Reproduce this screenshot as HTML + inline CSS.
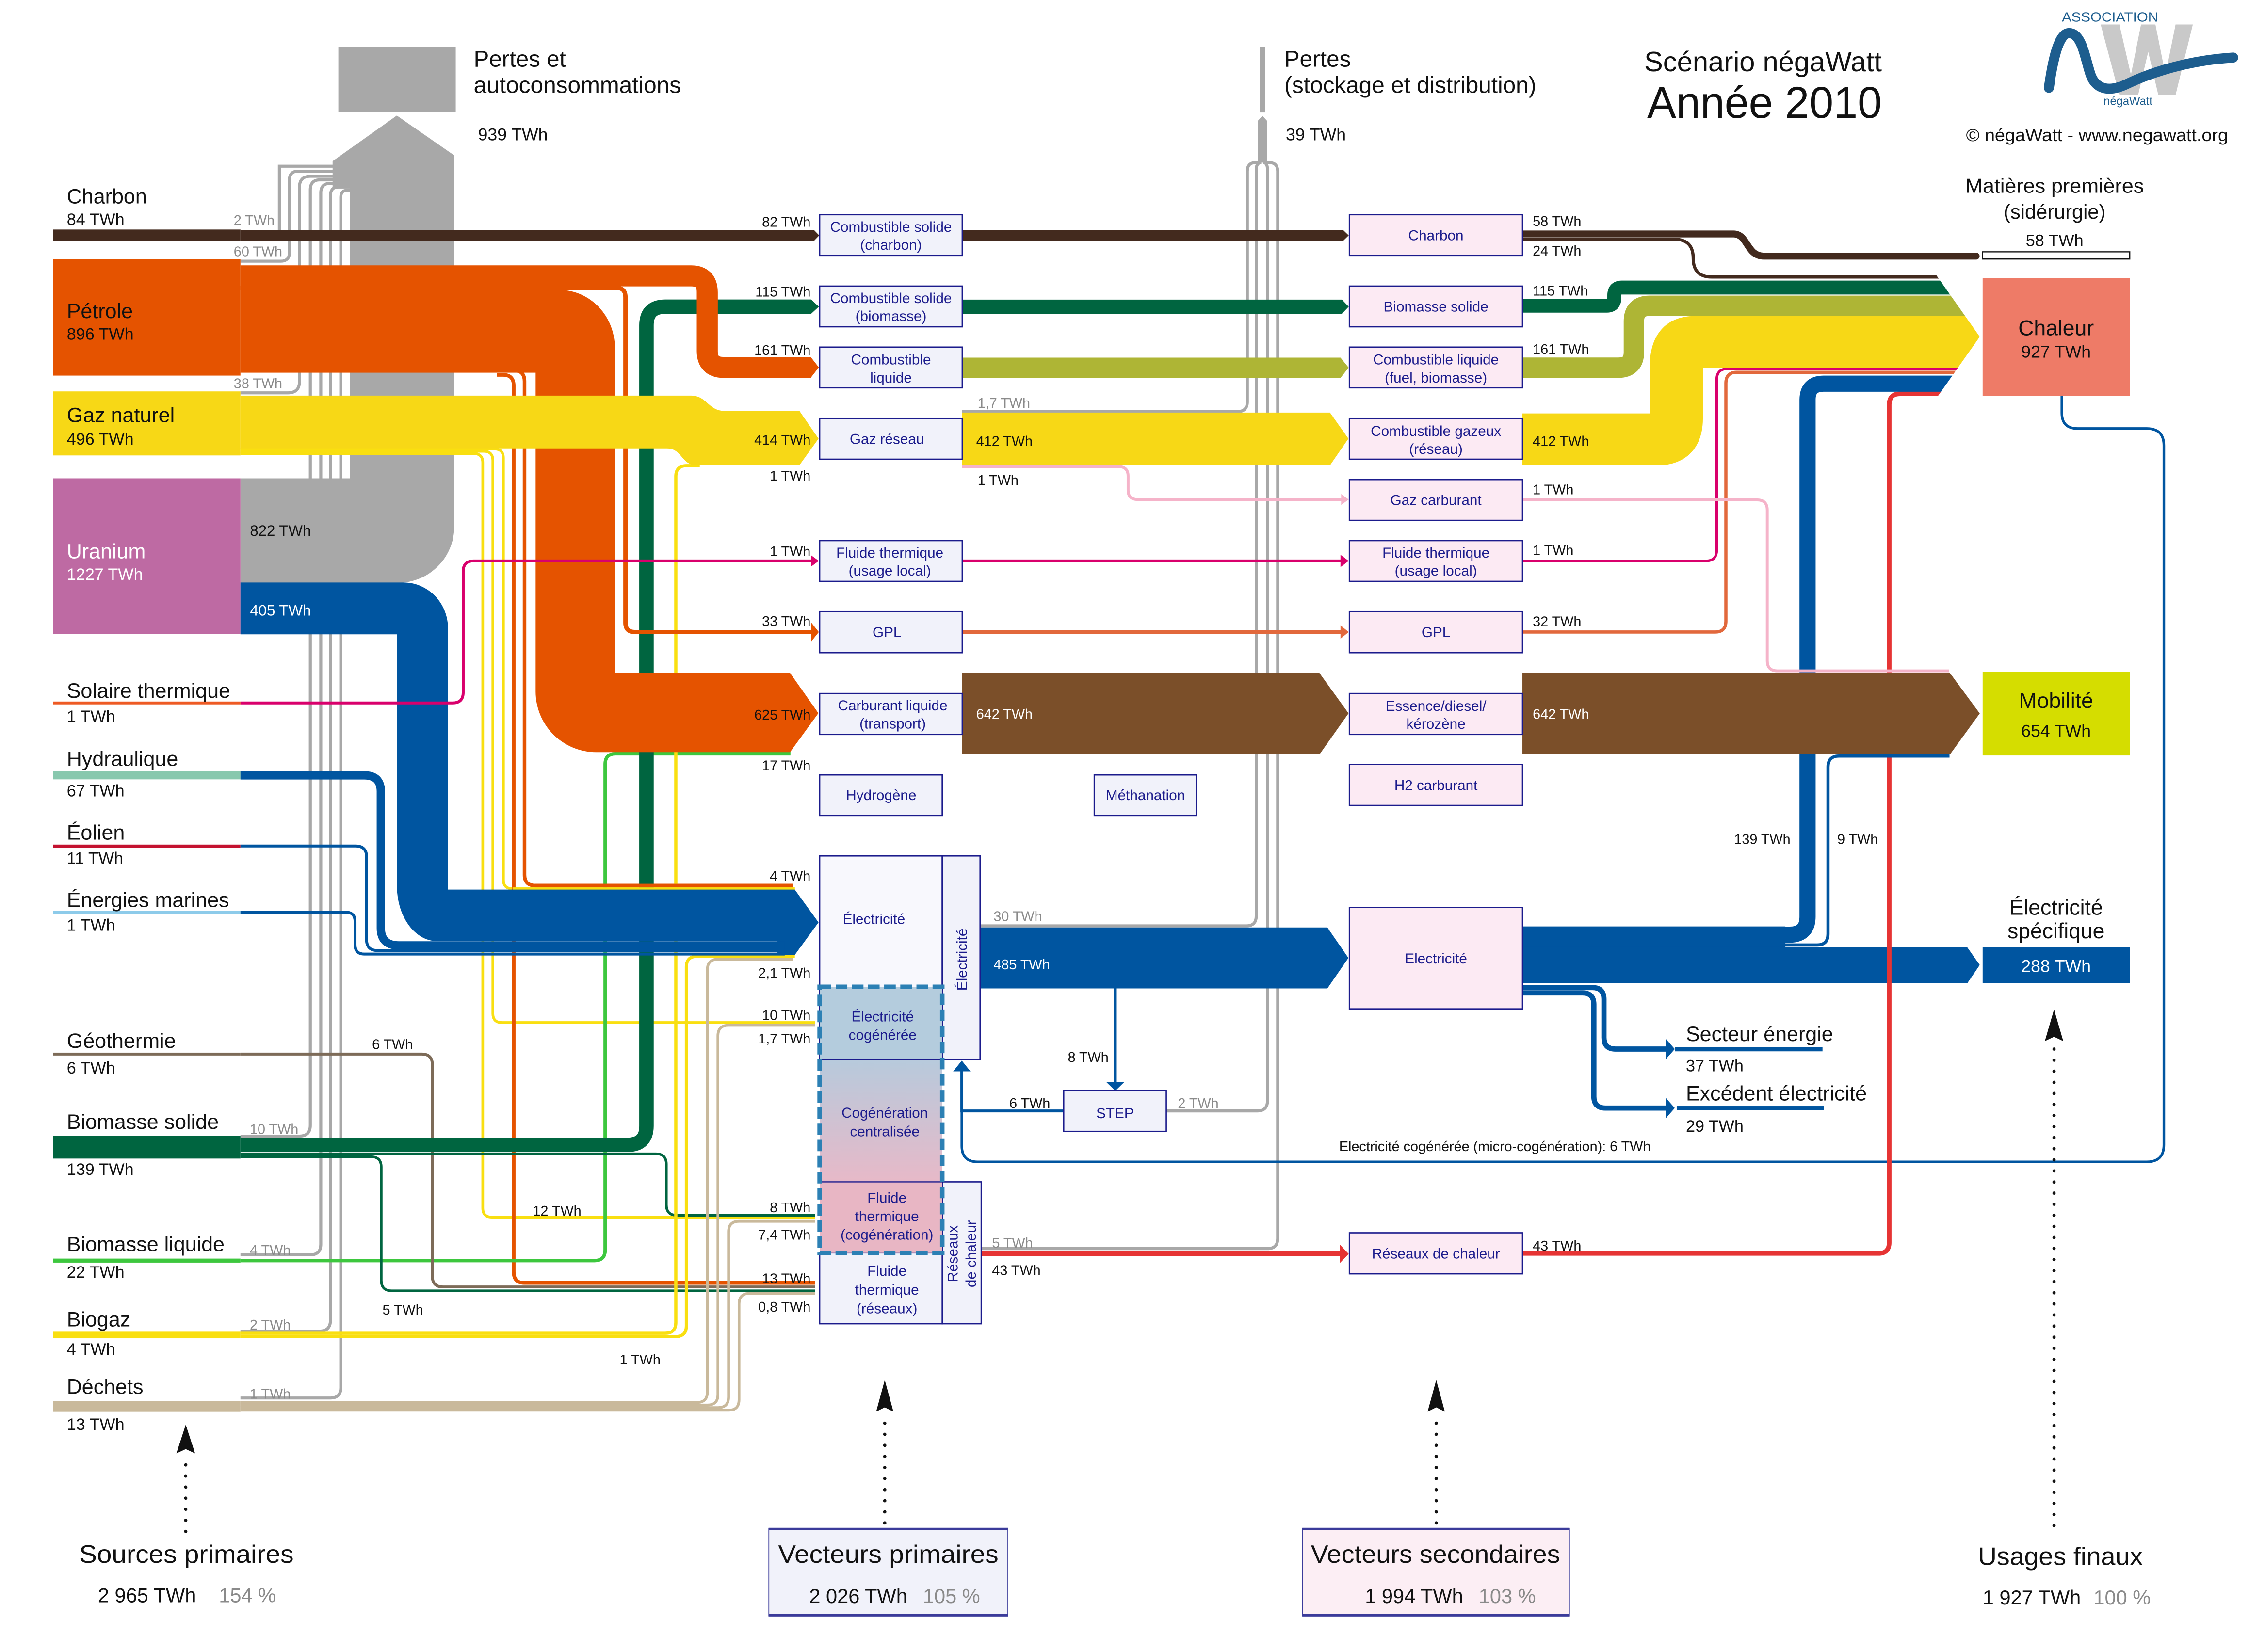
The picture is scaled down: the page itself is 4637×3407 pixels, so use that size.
<!DOCTYPE html>
<html lang="fr"><head><meta charset="utf-8"><title>Scénario négaWatt - Année 2010</title>
<style>
html,body{margin:0;padding:0;background:#fff;width:4637px;height:3407px;overflow:hidden}
svg{display:block}
text{font-family:"Liberation Sans",Arial,sans-serif}
.bx{fill:#F1F2FA;stroke:#1B1B8C;stroke-width:.9}
.bs{fill:#FCEAF3;stroke:#1B1B8C;stroke-width:.9}
.bt{fill:#1B1B8C;font-size:10px;text-anchor:middle}
.lb{font-size:9.7px;fill:#111}
.gl{font-size:9.7px;fill:#8a8a8a}
.r{text-anchor:end}
.m{text-anchor:middle}
.src{font-size:14.5px;fill:#111}
.val{font-size:11.5px;fill:#111}
.g{fill:none;stroke:#A8A8A8;stroke-width:2.1}
.s{fill:none}
</style></head><body>
<svg xmlns="http://www.w3.org/2000/svg" width="4637" height="3407" viewBox="0 0 1562 1148" preserveAspectRatio="none">
<defs>
<linearGradient id="cg" x1="0" y1="0" x2="0" y2="1"><stop offset="0" stop-color="#B7CADC"/><stop offset="1" stop-color="#E7B9C8"/></linearGradient>
<clipPath id="ch"><polygon points="1000,0 1210,0 1375,234 1345.7,275.6 1345.7,1000 1000,1000"/></clipPath>
</defs>
<rect width="1562" height="1148" fill="#fff"/>

<!-- ===== Gray losses (left) ===== -->
<rect x="235" y="32.5" width="81.5" height="45.5" fill="#A8A8A8"/>
<path d="M231,112 L275.6,80.3 L315.5,108 V366 A39,39 0 0 1 276.5,405 H167 V332.4 H243 V131 H231 Z" fill="#A8A8A8"/>
<g class="g">
<path d="M194,160 V115.5 H233"/>
<path d="M167,181.5 H195 Q201,181.5 201,175.5 V125 Q201,119 207,119 H233"/>
<path d="M167,273 H200 Q208,273 208,265 V130 Q208,122.5 215.5,122.5 H235"/>
<path d="M167,789.5 H208 Q215.5,789.5 215.5,782 V132 Q215.5,125 222,125 H244"/>
<path d="M167,872 H215.5 Q222.8,872 222.8,864.7 V134 Q222.8,127.5 229,127.5 H244"/>
<path d="M167,925 H222 Q229.5,925 229.5,917.5 V136 Q229.5,130 235,130 H244"/>
<path d="M167,971.5 H229.5 Q236.7,971.5 236.7,964.3 V137 Q236.7,132.3 241,132.3 H244"/>
</g>

<!-- ===== thin left lines ===== -->
<g class="s" stroke-width="1.9">
<path stroke="#F9DF10" d="M167,315.2 H329 Q335.3,315.2 335.3,321.5 V839.5 Q335.3,845.8 341.6,845.8 H566"/>
<path stroke="#F9DF10" d="M167,313.6 H336 Q342.3,313.6 342.3,320 V704.3 Q342.3,710.6 348.6,710.6 H566"/>
<path stroke="#F9DF10" d="M167,312 H343.3 Q349.6,312 349.6,318.3 V611.3 Q349.6,617.6 356,617.6 H552"/>
<path stroke="#E55300" stroke-width="2.5" d="M345,257.5 H357 Q364.3,257.5 364.3,265 V608 Q364.3,615.4 371.7,615.4 H551"/>
<path stroke="#E55300" stroke-width="2.5" d="M345,260.5 H349.5 Q356.8,260.5 356.8,268 V884 Q356.8,891.5 364,891.5 H566"/>
<path stroke="#3DC73E" stroke-width="2.4" d="M167,876 H413 Q420.3,876 420.3,868.5 V531 Q420.3,523.8 427.5,523.8 H549"/>
<path stroke="#7D6B58" stroke-width="2" d="M167,732.5 H293 Q300.3,732.5 300.3,740 V887 Q300.3,894.3 307.6,894.3 H566"/>
<path stroke="#006540" stroke-width="1.8" d="M167,803.8 H257.5 Q264.8,803.8 264.8,811 V889.7 Q264.8,897 272,897 H566"/>
<path stroke="#006540" stroke-width="1.8" d="M167,801.8 H455.5 Q462.8,801.8 462.8,809 V837.3 Q462.8,844.5 470,844.5 H566"/>
<path stroke="#F9DF10" stroke-width="2.2" d="M167,926.5 H462 Q469.4,926.5 469.4,919 V331 Q469.4,323.6 477,323.6 H486"/>
<path stroke="#F9DF10" stroke-width="2.2" d="M167,928.8 H469.3 Q476.7,928.8 476.7,921.4 V672 Q476.7,664.6 484,664.6 H552"/>
<path stroke="#C9B99B" d="M167,974.6 H484 Q491.3,974.6 491.3,967.3 V673.9 Q491.3,666.6 498.6,666.6 H551"/>
<path stroke="#C9B99B" d="M167,976.4 H491.3 Q498.6,976.4 498.6,969.1 V719.8 Q498.6,712.5 505.9,712.5 H566"/>
<path stroke="#C9B99B" d="M167,978.2 H498.7 Q506,978.2 506,970.9 V856 Q506,848.7 513.3,848.7 H566"/>
<path stroke="#C9B99B" d="M167,980 H506 Q513.3,980 513.3,972.7 V906.1 Q513.3,898.8 520.6,898.8 H566"/>
</g>

<!-- Biomasse solide main band -->
<rect x="37" y="789.3" width="130" height="15.8" fill="#006540"/>
<path class="s" stroke="#006540" stroke-width="10" d="M167,795.5 H436 Q449,795.5 449,782.5 V226 Q449,213.1 462,213.1 H563.5"/>
<polygon points="563.3,208.1 568.7,213.1 563.3,218.1" fill="#006540"/>

<!-- redraw horizontal thin lines over green -->
<path class="s" stroke="#E55300" stroke-width="2.5" d="M371.7,615.4 H551"/>
<path class="s" stroke="#F9DF10" stroke-width="1.9" d="M356,617.6 H552"/>

<!-- Pétrole -->
<rect x="37" y="180" width="130" height="81" fill="#E55300"/>
<path d="M167,199 H388.6 V201.5 A38.4,40 0 0 1 427,241.5 V467.6 H548.7 L568.4,495.6 L548.7,522.7 H414 A42,42 0 0 1 372,480.7 V259 H167 Z" fill="#E55300"/>
<path class="s" stroke="#E55300" stroke-width="14.6" d="M167,191.7 H480 Q491.2,191.7 491.2,203 V244 Q491.2,255.3 502.5,255.3 H563.5"/>
<polygon points="563,248 568.7,255.3 563,262.6" fill="#E55300"/>
<path class="s" stroke="#E55300" stroke-width="3" d="M167,200 H428 Q434.4,200 434.4,206.4 V432.8 Q434.4,439.2 440.8,439.2 H563.5"/>
<polygon points="563.5,432.7 568.7,439.2 563.5,445.7" fill="#E55300"/>

<!-- Gaz naturel -->
<rect x="37" y="272" width="130" height="44.5" fill="#F7D816"/>
<path d="M167,274.9 H480 C491,274.9 492,285.5 503,285.5 H555.2 L568.5,304.8 L555.2,323.3 H484 C473,323.3 474,311.6 463,311.6 H167 Z" fill="#F7D816"/>

<!-- Uranium -->
<rect x="37" y="332.4" width="130" height="108.3" fill="#BE6AA3"/>
<path d="M167,404.8 H280.4 A30.8,32 0 0 1 311.2,436.8 V618.2 H552 L568.5,641 L552,663.6 H540 V654 H303.5 A27.8,38 0 0 1 275.7,616 V440.8 H167 Z" fill="#0055A0"/>

<!-- Hydro / Eolien / Marines -->
<rect x="37" y="536" width="130" height="5.6" fill="#88C8AE"/>
<rect x="37" y="586.9" width="130" height="2.2" fill="#C41230"/>
<rect x="37" y="632.8" width="130" height="2.2" fill="#8DCBEA"/>
<path class="s" stroke="#0055A0" stroke-width="5.8" d="M167,538.8 H253 Q264.5,538.8 264.5,550 V645 Q264.5,657 277,657 H545"/>
<path class="s" stroke="#0055A0" stroke-width="2" d="M167,587.9 H247 Q254.6,587.9 254.6,595.5 V653 Q254.6,660.5 262,660.5 H545"/>
<path class="s" stroke="#0055A0" stroke-width="2" d="M167,633.9 H240 Q246.6,633.9 246.6,640.5 V656.5 Q246.6,663 253,663 H545"/>

<!-- Solaire / magenta -->
<rect x="37" y="487.5" width="130" height="2" fill="#EE5A24"/>
<path class="s" stroke="#D9006C" stroke-width="2" d="M167,488.5 H314.4 Q321.7,488.5 321.7,481.2 V397.1 Q321.7,389.8 329,389.8 H563.5"/>
<polygon points="563.5,386 568.7,389.8 563.5,393.6" fill="#D9006C"/>

<!-- Géothermie, biomasse liquide, biogaz, déchets source bars -->
<rect x="37" y="731.5" width="130" height="2" fill="#7D6B58"/>
<rect x="37" y="874.6" width="130" height="2.8" fill="#3DC73E"/>
<rect x="37" y="925.4" width="130" height="4.6" fill="#F9DF10"/>
<rect x="37" y="973.6" width="130" height="7.5" fill="#C9B99B"/>

<!-- Charbon -->
<rect x="37" y="159.5" width="130" height="8.3" fill="#432A1E"/>
<path d="M167,160 H565.5 L569,163.6 L565.5,167.2 H167 Z" fill="#432A1E"/>

<!-- ===== Middle gray losses ===== -->
<rect x="875" y="32.5" width="3.7" height="45.7" fill="#A8A8A8"/>
<polygon points="876.8,80.5 880,84 880,113 873.6,113 873.6,84" fill="#A8A8A8"/>
<g class="g" stroke-width="2.2">
<path d="M668.3,286 H859.5 Q866.3,286 866.3,279.2 V119 Q866.3,113 872,113 H876"/>
<path d="M680.7,643.4 H865.7 Q872.5,643.4 872.5,636.6 V118 Q872.5,113 876,113"/>
<path d="M810,772 H873.2 Q880.3,772 880.3,765 V118 Q880.3,113 877.5,113"/>
<path d="M681.5,867.7 H880.3 Q887.4,867.7 887.4,860.6 V119 Q887.4,113 881.5,113 H878"/>
</g>

<!-- ===== Middle bands ===== -->
<path d="M668.3,160 H933 L936.7,163.6 L933,167.2 H668.3 Z" fill="#432A1E"/>
<path d="M668.3,208.2 H932 L936.7,213.1 L932,218 H668.3 Z" fill="#006540"/>
<path d="M668.3,248.5 H931 L936.7,255.5 L931,262.6 H668.3 Z" fill="#AEB535"/>
<path d="M668.3,286.7 H923.7 L936.5,304.8 L923.7,323.4 H668.3 Z" fill="#F7D816"/>
<path class="s" stroke="#F5B3C9" stroke-width="2" d="M668.3,324.3 H777 Q783.5,324.3 783.5,330.8 V340.6 Q783.5,347.1 790,347.1 H932"/>
<polygon points="931.5,343.3 936.7,347.1 931.5,350.9" fill="#F5B3C9"/>
<path class="s" stroke="#D9006C" stroke-width="2" d="M668.3,389.8 H932"/>
<polygon points="931,385.5 936.7,389.8 931,394.1" fill="#D9006C"/>
<path class="s" stroke="#E2683C" stroke-width="2.5" d="M668.3,439.2 H932"/>
<polygon points="931,434.5 936.7,439.2 931,443.9" fill="#E2683C"/>
<path d="M668.3,467.7 H916.4 L936.6,495.7 L916.4,524.3 H668.3 Z" fill="#7B4F29"/>
<path d="M680.7,644.5 H921.9 L936.5,665.7 L921.9,686.9 H680.7 Z" fill="#0055A0"/>
<path class="s" stroke="#E63434" stroke-width="3.5" d="M681.5,871.3 H931"/>
<polygon points="930.5,864.8 936.7,871.3 930.5,877.8" fill="#E63434"/>

<!-- STEP connectors -->
<path class="s" stroke="#0055A0" stroke-width="2" d="M774.6,686.9 V752"/>
<polygon points="768.4,752 780.8,752 774.6,758" fill="#0055A0"/>
<path class="s" stroke="#0055A0" stroke-width="2" d="M738.8,772 H668 V744"/>
<polygon points="662,744.5 674,744.5 668,737" fill="#0055A0"/>
<path class="s" stroke="#0055A0" stroke-width="1.8" d="M1432,275.2 V287 Q1432,297.8 1443,297.8 H1491 Q1502.9,297.8 1502.9,309.7 V795.5 Q1502.9,807.4 1491,807.4 H679 Q668,807.4 668,796.4 V772"/>

<!-- ===== Right side ===== -->
<path class="s" stroke="#432A1E" stroke-width="4.8" stroke-linecap="round" d="M1057.4,162.6 H1204 C1214,162.6 1213,178 1225,178 H1372.5"/>
<!-- electricity band to Électricité spécifique (not clipped) -->
<path d="M1057.4,643.8 H1240 V658.4 H1366.4 L1375,670.6 L1366.4,683.2 H1057.4 Z" fill="#0055A0"/>
<g clip-path="url(#ch)">
<path class="s" stroke="#432A1E" stroke-width="2.2" d="M1057.4,166.3 H1163 Q1176,166.3 1176,179.5 Q1176,192.5 1189,192.5 H1380"/>
<path class="s" stroke="#006540" stroke-width="9.7" d="M1057.4,212.4 H1116 Q1121.2,212.4 1121.2,207.2 V205 Q1121.2,199.8 1126.4,199.8 H1380"/>
<path class="s" stroke="#AEB535" stroke-width="14.2" d="M1057.4,255.5 H1124 Q1134.8,255.5 1134.8,244.7 V223.3 Q1134.8,212.5 1145.6,212.5 H1380"/>
<path d="M1057.4,287.3 H1146 V253 C1146,233 1157,219.6 1177,219.6 H1380 V255.7 H1182.7 V291 C1182.7,311 1171,323.4 1151,323.4 H1057.4 Z" fill="#F7D816"/>
<path class="s" stroke="#D9006C" stroke-width="1.8" d="M1057.4,389.8 H1184.8 Q1192.3,389.8 1192.3,382.3 V263.8 Q1192.3,256.3 1199.8,256.3 H1380"/>
<path class="s" stroke="#E2683C" stroke-width="2.2" d="M1057.4,439.2 H1191.2 Q1198.7,439.2 1198.7,431.7 V266.2 Q1198.7,258.7 1206.2,258.7 H1380"/>
<path class="s" stroke="#E63434" stroke-width="3.2" d="M1057.4,871 H1304.6 Q1312.1,871 1312.1,863.5 V281.2 Q1312.1,273.7 1319.6,273.7 H1380"/>
<path class="s" stroke="#0055A0" stroke-width="11.2" d="M1057.4,649.5 H1243 Q1255.4,649.5 1255.4,637 V277.7 Q1255.4,266.6 1266.5,266.6 H1380"/>
</g>
<path d="M1057.4,467.7 H1354.3 L1375,495.8 L1354.3,524.3 H1057.4 Z" fill="#7B4F29"/>
<path class="s" stroke="#F5B3C9" stroke-width="2" d="M1057.4,347.4 H1220.4 Q1227.4,347.4 1227.4,354.4 V459.2 Q1227.4,466.2 1234.4,466.2 H1353.5"/>
<path class="s" stroke="#0055A0" stroke-width="2.2" d="M1057.4,656.7 H1262 Q1269.6,656.7 1269.6,649 V533 Q1269.6,525.4 1277.2,525.4 H1354"/>
<path class="s" stroke="#0055A0" stroke-width="3.6" d="M1057.4,686.3 H1106 Q1114,686.3 1114,694.3 V721 Q1114,729 1122,729 H1157.5"/>
<path class="s" stroke="#0055A0" stroke-width="3.6" d="M1057.4,690 H1099 Q1107,690 1107,698 V762 Q1107,770 1115,770 H1157.5"/>
<polygon points="1157,722 1163.2,729 1157,736" fill="#0055A0"/>
<polygon points="1157,763 1163.2,770 1157,777" fill="#0055A0"/>
<rect x="1163.5" y="727.6" width="102.3" height="3" fill="#0055A0"/>
<rect x="1164.5" y="768.6" width="102.3" height="3" fill="#0055A0"/>

<!-- Final use boxes -->
<rect x="1377" y="175" width="102.2" height="5" fill="#fff" stroke="#111" stroke-width=".8"/>
<rect x="1377" y="193.4" width="102.2" height="81.8" fill="#EE7B67"/>
<rect x="1377" y="467" width="102.2" height="58" fill="#D5DD00"/>
<rect x="1377" y="658.4" width="102.2" height="24.8" fill="#0055A0"/>

<!-- ===== Primary vector boxes ===== -->
<rect class="bx" x="569.3" y="149.2" width="99" height="28.3"/>
<rect class="bx" x="569.3" y="198.8" width="99" height="28.3"/>
<rect class="bx" x="569.3" y="241.2" width="99" height="28.3"/>
<rect class="bx" x="569.3" y="290.9" width="99" height="28.2"/>
<rect class="bx" x="569.3" y="375.7" width="99" height="28.3"/>
<rect class="bx" x="569.3" y="425" width="99" height="28.6"/>
<rect class="bx" x="569.3" y="481.9" width="99" height="28.5"/>
<rect class="bx" x="569.3" y="538.5" width="85.1" height="28.2"/>
<rect class="bx" x="760" y="538.5" width="71" height="28.2"/>
<rect x="569.3" y="594.8" width="85.1" height="141.4" fill="#F8F8FD" stroke="#1B1B8C" stroke-width=".9"/>
<rect class="bx" x="654.4" y="594.8" width="26.3" height="141.4"/>
<rect class="bx" x="654.4" y="821.3" width="27.1" height="98.6"/>
<rect class="bx" x="569.3" y="870.6" width="85.1" height="49.3"/>
<rect x="569.3" y="685.8" width="85.1" height="50.4" fill="#B4CCDD"/>
<rect x="569.3" y="736.2" width="85.1" height="85.1" fill="url(#cg)"/>
<rect x="569.3" y="821.3" width="85.1" height="49.3" fill="#E8B6C4"/>
<path class="s" stroke="#1B1B8C" stroke-width=".8" d="M569.3,736.2 H654.4 M569.3,821.3 H654.4"/>
<rect x="569.3" y="685.8" width="85.1" height="184.8" fill="none" stroke="#2C80B4" stroke-width="3.2" stroke-dasharray="8 3.2"/>
<rect class="bx" x="738.8" y="757.7" width="71.2" height="28.5"/>

<!-- ===== Secondary vector boxes ===== -->
<rect class="bs" x="937.2" y="149.2" width="120.2" height="28.3"/>
<rect class="bs" x="937.2" y="198.8" width="120.2" height="28.3"/>
<rect class="bs" x="937.2" y="241.2" width="120.2" height="28.3"/>
<rect class="bs" x="937.2" y="290.9" width="120.2" height="28.2"/>
<rect class="bs" x="937.2" y="333.3" width="120.2" height="28.3"/>
<rect class="bs" x="937.2" y="375.7" width="120.2" height="28.3"/>
<rect class="bs" x="937.2" y="425" width="120.2" height="28.6"/>
<rect class="bs" x="937.2" y="481.9" width="120.2" height="28.5"/>
<rect class="bs" x="937.2" y="531.2" width="120.2" height="28.5"/>
<rect class="bs" x="937.2" y="630.6" width="120.2" height="70.5"/>
<rect class="bs" x="937.2" y="856.7" width="120.2" height="28.5"/>

<!-- ===== Box texts ===== -->
<g class="bt">
<text x="618.8" y="161">Combustible solide</text><text x="618.8" y="173.5">(charbon)</text>
<text x="618.8" y="210.6">Combustible solide</text><text x="618.8" y="223.1">(biomasse)</text>
<text x="618.8" y="253.3">Combustible</text><text x="618.8" y="265.9">liquide</text>
<text x="616" y="308.5">Gaz réseau</text>
<text x="618" y="387.5">Fluide thermique</text><text x="618" y="400">(usage local)</text>
<text x="616" y="442.8">GPL</text>
<text x="620" y="493.7">Carburant liquide</text><text x="620" y="506.2">(transport)</text>
<text x="612" y="556">Hydrogène</text>
<text x="795.5" y="556">Méthanation</text>
<text x="607" y="642">Électricité</text>
<text x="613" y="709.8">Électricité</text><text x="613" y="722.6">cogénérée</text>
<text x="614.5" y="776.6">Cogénération</text><text x="614.5" y="789.6">centralisée</text>
<text x="616" y="835.8">Fluide</text><text x="616" y="848.6">thermique</text><text x="616" y="861.4">(cogénération)</text>
<text x="616" y="886.6">Fluide</text><text x="616" y="899.6">thermique</text><text x="616" y="912.6">(réseaux)</text>
<text transform="translate(671.5,666.8) rotate(-90)">Électricité</text>
<text transform="translate(665.2,871.3) rotate(-90)">Réseaux</text>
<text transform="translate(677.7,871.3) rotate(-90)">de chaleur</text>
<text x="774.4" y="777">STEP</text>
<text x="997.3" y="167">Charbon</text>
<text x="997.3" y="216.5">Biomasse solide</text>
<text x="997.3" y="253.3">Combustible liquide</text><text x="997.3" y="265.9">(fuel, biomasse)</text>
<text x="997.3" y="302.9">Combustible gazeux</text><text x="997.3" y="315.4">(réseau)</text>
<text x="997.3" y="351">Gaz carburant</text>
<text x="997.3" y="387.5">Fluide thermique</text><text x="997.3" y="400">(usage local)</text>
<text x="997.3" y="442.8">GPL</text>
<text x="997.3" y="493.9">Essence/diesel/</text><text x="997.3" y="506.4">kérozène</text>
<text x="997.3" y="549">H2 carburant</text>
<text x="997.3" y="669.5">Electricité</text>
<text x="997.3" y="874.5">Réseaux de chaleur</text>
</g>

<!-- ===== Source labels ===== -->
<g class="src">
<text x="46.4" y="141.4">Charbon</text>
<text x="46.4" y="221">Pétrole</text>
<text x="46.4" y="293.3">Gaz naturel</text>
<text x="46.4" y="388" fill="#fff">Uranium</text>
<text x="46.4" y="484.9">Solaire thermique</text>
<text x="46.4" y="532.3">Hydraulique</text>
<text x="46.4" y="583.5">Éolien</text>
<text x="46.4" y="630.2">Énergies marines</text>
<text x="46.4" y="728.2">Géothermie</text>
<text x="46.4" y="784.4">Biomasse solide</text>
<text x="46.4" y="869.5">Biomasse liquide</text>
<text x="46.4" y="921.7">Biogaz</text>
<text x="46.4" y="968.5">Déchets</text>
</g>
<g class="val">
<text x="46.4" y="156.4">84 TWh</text>
<text x="46.4" y="236">896 TWh</text>
<text x="46.4" y="309">496 TWh</text>
<text x="46.4" y="403" fill="#fff">1227 TWh</text>
<text x="46.4" y="501.7">1 TWh</text>
<text x="46.4" y="553.5">67 TWh</text>
<text x="46.4" y="600.3">11 TWh</text>
<text x="46.4" y="646.7">1 TWh</text>
<text x="46.4" y="746">6 TWh</text>
<text x="46.4" y="816.5">139 TWh</text>
<text x="46.4" y="887.8">22 TWh</text>
<text x="46.4" y="941.5">4 TWh</text>
<text x="46.4" y="993.7">13 TWh</text>
</g>

<!-- ===== Small flow labels ===== -->
<g class="gl">
<text x="162.3" y="156.4">2 TWh</text>
<text x="162.3" y="178">60 TWh</text>
<text x="162.3" y="269.8">38 TWh</text>
<text x="173.5" y="788">10 TWh</text>
<text x="173.5" y="872">4 TWh</text>
<text x="173.5" y="924">2 TWh</text>
<text x="173.5" y="972">1 TWh</text>
<text x="679" y="283.4">1,7 TWh</text>
<text x="690" y="640.1">30 TWh</text>
<text x="818" y="770">2 TWh</text>
<text x="689" y="867">5 TWh</text>
</g>
<g class="lb">
<text x="173.6" y="372.4" font-size="10.5">822 TWh</text>
<text x="173.6" y="427.7" font-size="10.5" fill="#fff">405 TWh</text>
<text x="258.4" y="729">6 TWh</text>
<text x="370" y="844.8">12 TWh</text>
<text x="265.6" y="913.5">5 TWh</text>
<text x="430.4" y="948.2">1 TWh</text>
<g class="r">
<text x="563" y="157.5">82 TWh</text>
<text x="563" y="206">115 TWh</text>
<text x="563" y="246.7">161 TWh</text>
<text x="563" y="309">414 TWh</text>
<text x="563" y="334">1 TWh</text>
<text x="563" y="386.5">1 TWh</text>
<text x="563" y="435">33 TWh</text>
<text x="563" y="500">625 TWh</text>
<text x="563" y="535.3">17 TWh</text>
<text x="563" y="612">4 TWh</text>
<text x="563" y="679.5">2,1 TWh</text>
<text x="563" y="708.7">10 TWh</text>
<text x="563" y="725.1">1,7 TWh</text>
<text x="563" y="842.4">8 TWh</text>
<text x="563" y="861.4">7,4 TWh</text>
<text x="563" y="891.7">13 TWh</text>
<text x="563" y="911.4">0,8 TWh</text>
<text x="770" y="738">8 TWh</text>
</g>
<text x="678" y="309.8">412 TWh</text>
<text x="679" y="337">1 TWh</text>
<text x="678" y="499.5" fill="#fff">642 TWh</text>
<text x="690" y="673.5" fill="#fff">485 TWh</text>
<text x="701" y="770">6 TWh</text>
<text x="689" y="886">43 TWh</text>
<text x="930" y="800">Electricité cogénérée (micro-cogénération): 6 TWh</text>
<text x="1064.5" y="157">58 TWh</text>
<text x="1064.5" y="177.5">24 TWh</text>
<text x="1064.5" y="205.4">115 TWh</text>
<text x="1064.5" y="246">161 TWh</text>
<text x="1064.5" y="309.8">412 TWh</text>
<text x="1064.5" y="343.5">1 TWh</text>
<text x="1064.5" y="385.6">1 TWh</text>
<text x="1064.5" y="435.2">32 TWh</text>
<text x="1064.5" y="499.5" fill="#fff">642 TWh</text>
<text x="1064.5" y="869">43 TWh</text>
<text x="1204.4" y="586.5">139 TWh</text>
<text x="1276" y="586.5">9 TWh</text>
</g>

<!-- ===== Final use labels ===== -->
<text x="1428" y="233" class="m" font-size="15" fill="#111">Chaleur</text>
<text x="1428" y="248.5" class="m" font-size="12" fill="#111">927 TWh</text>
<text x="1428" y="492" class="m" font-size="15" fill="#111">Mobilité</text>
<text x="1428" y="512" class="m" font-size="12" fill="#111">654 TWh</text>
<text x="1428" y="635.7" class="m" font-size="15" fill="#111">Électricité</text>
<text x="1428" y="652" class="m" font-size="15" fill="#111">spécifique</text>
<text x="1428" y="675.5" class="m" font-size="12" fill="#fff">288 TWh</text>
<text x="1427" y="134" class="m" font-size="14" fill="#111" textLength="124" lengthAdjust="spacingAndGlyphs">Matières premières</text>
<text x="1427" y="152" class="m" font-size="14" fill="#111">(sidérurgie)</text>
<text x="1427" y="171" class="m" font-size="11.5" fill="#111">58 TWh</text>
<text x="1170.9" y="723.4" font-size="14.5" fill="#111">Secteur énergie</text>
<text x="1170.9" y="744.5" font-size="11.5" fill="#111">37 TWh</text>
<text x="1170.9" y="764.7" font-size="14.5" fill="#111">Excédent électricité</text>
<text x="1170.9" y="786.5" font-size="11.5" fill="#111">29 TWh</text>

<!-- ===== Top titles ===== -->
<text x="329" y="46.3" font-size="16" fill="#111">Pertes et</text>
<text x="329" y="64.5" font-size="16" fill="#111" textLength="144" lengthAdjust="spacingAndGlyphs">autoconsommations</text>
<text x="332" y="97.5" font-size="12" fill="#111">939 TWh</text>
<text x="892" y="46.3" font-size="16" fill="#111">Pertes</text>
<text x="892" y="64.5" font-size="16" fill="#111" textLength="175" lengthAdjust="spacingAndGlyphs">(stockage et distribution)</text>
<text x="893" y="97.5" font-size="12" fill="#111">39 TWh</text>
<text x="1307" y="49.6" font-size="19.5" fill="#111" text-anchor="end" textLength="165" lengthAdjust="spacingAndGlyphs">Scénario négaWatt</text>
<text x="1307" y="81.8" font-size="31" fill="#111" text-anchor="end" textLength="163" lengthAdjust="spacingAndGlyphs">Année 2010</text>
<text x="1365.5" y="98" font-size="12.2" fill="#111" textLength="182" lengthAdjust="spacingAndGlyphs">© négaWatt - www.negawatt.org</text>

<!-- Logo -->
<polygon points="1459,17 1472,17 1480,52 1487,17 1497,17 1504,52 1511,17 1523,17 1511,66 1499,66 1492,36 1485,66 1472,66" fill="#C9C9C9"/>
<path class="s" stroke="#1D5D8E" stroke-width="7" stroke-linecap="round" d="M1423,61 C1426,40 1430,23 1437,23 C1446,23 1448,40 1452,52 C1456,63 1466,64 1478,58 C1495,50 1520,42 1551,40"/>
<text x="1465.5" y="15" class="m" font-size="9.5" fill="#1D5D8E" textLength="67" lengthAdjust="spacingAndGlyphs">ASSOCIATION</text>
<text x="1478" y="73" class="m" font-size="8" fill="#1D5D8E">négaWatt</text>

<!-- ===== Bottom ===== -->
<g fill="#111">
<polygon points="129,990 135.5,1010 129,1007 122.5,1010"/>
<polygon points="614.5,959 620.5,981 614.5,978 608.5,981"/>
<polygon points="997.5,959 1003.5,981 997.5,978 991.5,981"/>
<polygon points="1426.6,701.5 1433,723.5 1426.6,720.5 1420.2,723.5"/>
</g>
<g class="s" stroke="#111" stroke-width="2.3" stroke-linecap="round" stroke-dasharray="0 7.7">
<path d="M129,1018 V1066"/>
<path d="M614.5,989 V1060"/>
<path d="M997.5,989 V1060"/>
<path d="M1426.6,729 V1066"/>
</g>
<rect x="534" y="1062" width="166" height="61" fill="#F1F2FA" stroke="#3B3B9A" stroke-width=".6"/>
<path class="s" stroke="#3B3B9A" stroke-width="1.6" d="M534,1062.5 H700 M534,1122.5 H700"/>
<rect x="904.6" y="1062" width="185.4" height="61" fill="#FCEEF4" stroke="#3B3B9A" stroke-width=".6"/>
<path class="s" stroke="#3B3B9A" stroke-width="1.6" d="M904.6,1062.5 H1090 M904.6,1122.5 H1090"/>
<text x="129.5" y="1086" class="m" font-size="17.5" fill="#111" textLength="149" lengthAdjust="spacingAndGlyphs">Sources primaires</text>
<text x="617" y="1086" class="m" font-size="17.5" fill="#111" textLength="153" lengthAdjust="spacingAndGlyphs">Vecteurs primaires</text>
<text x="997" y="1086" class="m" font-size="17.5" fill="#111" textLength="173" lengthAdjust="spacingAndGlyphs">Vecteurs secondaires</text>
<text x="1431" y="1087.5" class="m" font-size="17.5" fill="#111" textLength="114.5" lengthAdjust="spacingAndGlyphs">Usages finaux</text>
<g font-size="14">
<text x="68" y="1113.5" fill="#111">2 965 TWh</text><text x="152" y="1113.5" fill="#8a8a8a">154 %</text>
<text x="562" y="1114" fill="#111">2 026 TWh</text><text x="641" y="1114" fill="#8a8a8a">105 %</text>
<text x="948" y="1114" fill="#111">1 994 TWh</text><text x="1027" y="1114" fill="#8a8a8a">103 %</text>
<text x="1377" y="1115" fill="#111">1 927 TWh</text><text x="1454" y="1115" fill="#8a8a8a">100 %</text>
</g>
</svg>
</body></html>
